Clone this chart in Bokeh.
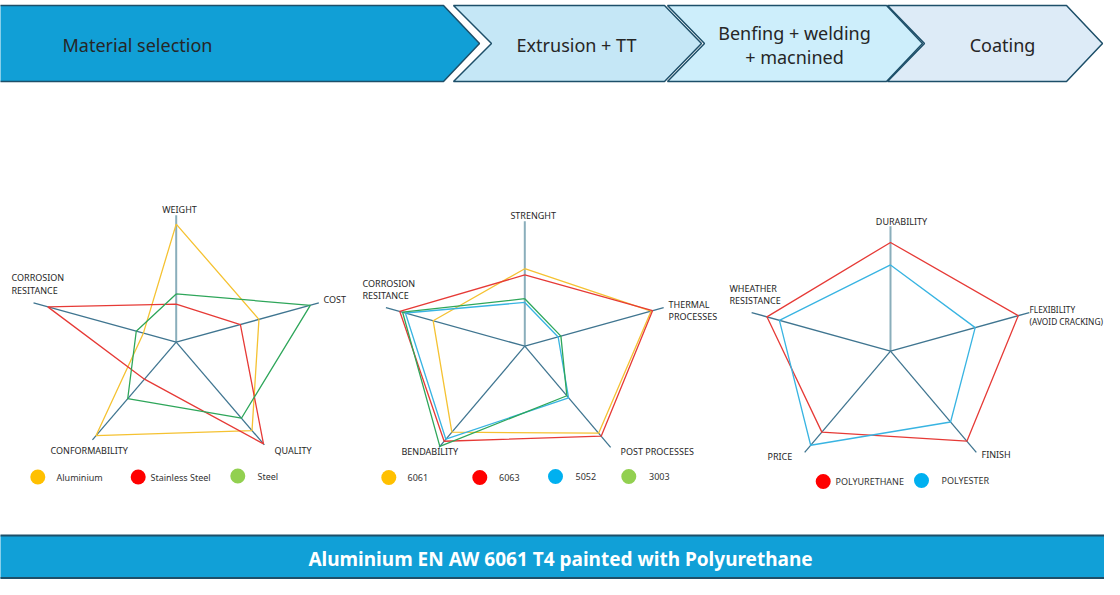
import numpy as np
from bokeh.plotting import figure
from bokeh.models import Range1d
from bokeh.core.properties import value
from bokeh.embed import file_html
from bokeh.resources import INLINE

# ---------------- data ----------------
steps = ["Material selection", "Extrusion + TT", "Benfing + welding\n+ macnined", "Coating"]
conclusion = "Aluminium EN AW 6061 T4 painted with Polyurethane"

# chart 1 : material selection (values 0..10, axis end = 10)
axes1 = ["WEIGHT", "COST", "QUALITY", "CONFORMABILITY", "CORROSION\nRESITANCE"]
series1 = ["Aluminium", "Stainless Steel", "Steel"]
aluminium = [9.3, 5.8, 8.6, 9.1, 2.3]
stainless = [3.0, 4.5, 9.9, 3.6, 9.0]
steel = [3.8, 9.4, 7.4, 5.5, 2.8]

# chart 2 : alloy selection
axes2 = ["STRENGHT", "THERMAL\nPROCESSES", "POST PROCESSES", "BENDABILITY", "CORROSION\nRESITANCE"]
series2 = ["6061", "6063", "5052", "3003"]
a6061 = [6.2, 9.1, 8.6, 8.5, 6.6]
a6063 = [5.7, 9.2, 8.9, 9.4, 9.0]
a5052 = [3.5, 2.4, 5.1, 9.2, 8.6]
a3003 = [3.8, 2.6, 4.9, 9.9, 8.8]

# chart 3 : coating selection
axes3 = ["DURABILITY", "FLEXIBILITY\n(AVOID CRACKING)", "FINISH", "PRICE", "WHEATHER\nRESISTANCE"]
series3 = ["POLYURETHANE", "POLYESTER"]
polyurethane = [8.7, 9.2, 8.9, 8.0, 8.9]
polyester = [6.9, 6.1, 7.0, 9.3, 8.0]

# ---------------- styling ----------------
FONT = "Noto Sans"
AX_DARK = "#3f7590"
AX_LIGHT = "#8aaebb"
BORDER = "#1d4f69"
C_YEL, C_RED, C_GRN, C_BLU = "#f5c232", "#e63a36", "#2ea65a", "#38b4e2"
L_YEL, L_RED, L_GRN, L_BLU = "#ffc000", "#ff0000", "#92d050", "#00b0f0"
ANGLES = np.radians([90, 18, -54, -126, 162])

p = figure(width=1104, height=579, output_backend="svg", toolbar_location=None,
           x_range=Range1d(0, 1104), y_range=Range1d(579, 0))
p.axis.visible = False
p.grid.visible = False
p.outline_line_color = None
p.min_border = 0
p.background_fill_color = "white"

def txt(x, y, s, size, color="#262626", align="left", style="normal", font=FONT):
    p.text(x=[x], y=[y], text=[s], text_font=value(font), text_font_size=f"{size}px",
           text_color=color, text_align=align, text_baseline="middle",
           text_font_style=style)

# ---------------- top chevrons ----------------
top, mid, bot = 5, 43, 81
chev = [
    ([-20, 443, 479, 443, -20], None, "#119fd6"),
    ([453, 664, 701, 664, 453], 491, "#c5e7f6"),
    ([667, 886, 922, 886, 667], 704, "#cdeefb"),
    ([887, 1066, 1102, 1066, 887], 924, "#ddebf7"),
]
for xs, notch, fill in chev:
    if notch is None:
        px = xs
        py = [top, top, mid, bot, bot]
    else:
        px = [xs[0], xs[1], xs[2], xs[3], xs[4], notch]
        py = [top, top, mid, bot, bot, mid]
    p.patch(px, py, fill_color=fill, line_color=BORDER, line_width=1.5)

txt(62, 44, steps[0], 18)
txt(576, 44, steps[1], 18, align="center")
l1, l2 = steps[2].split("\n")
txt(794, 32, l1, 18, align="center")
txt(794, 56, l2, 18, align="center")
txt(1002, 44, steps[3], 18, align="center")

# ---------------- radar helper ----------------
def radar(cx, cy, rx, ry, series, colors, axis_len=(1, 1, 1, 1, 1)):
    for i, a in enumerate(ANGLES):
        L = axis_len[i]
        col = AX_LIGHT if i == 0 else AX_DARK
        lw = 2.0 if i == 0 else 1.3
        p.line([cx, cx + L * rx * np.cos(a)], [cy, cy - L * ry * np.sin(a)],
               line_color=col, line_width=lw)
    for vals, col in zip(series, colors):
        r = np.array(vals + vals[:1]) / 10.0
        ang = np.concatenate([ANGLES, ANGLES[:1]])
        xs = cx + r * rx * np.cos(ang)
        ys = cy - r * ry * np.sin(ang)
        p.line(xs, ys, line_color=col, line_width=1.3)

def label(x, y, s, align="left", size=9):
    lines = s.split("\n")
    for k, ln in enumerate(lines):
        txt(x, y + k * 12.5, ln, size, align=align)

# chart 1
radar(175.7, 341.7, 150, 127, [aluminium, stainless, steel], [C_YEL, C_RED, C_GRN],
      axis_len=(1.0, 1.0, 1.0, 0.95, 1.0))
label(179, 209, axes1[0], "center")
label(323, 299, axes1[1])
label(274, 450, axes1[2])
label(50, 450, axes1[3])
label(11, 277, axes1[4])

# chart 2
radar(524.3, 345.7, 146, 125, [a6061, a6063, a5052, a3003], [C_YEL, C_RED, C_BLU, C_GRN])
label(532.7, 215, axes2[0], "center")
label(668, 303.5, axes2[1])
label(620, 451, axes2[2])
label(401, 451, axes2[3])
label(362, 282.5, axes2[4])

# chart 3
radar(890, 350.7, 146, 125, [polyurethane, polyester], [C_RED, C_BLU])
label(901, 221, axes3[0], "center")
label(1029, 308.5, axes3[1], size=8.3)
label(981, 453.5, axes3[2])
label(767, 456, axes3[3])
label(729, 287.5, axes3[4])

# ---------------- legends ----------------
def legend_item(x, y, name, color, tx):
    p.scatter([x], [y], size=15, marker="circle", fill_color=color, line_color=None)
    txt(tx, y, name, 9, color="#333333")

legend_item(37.3, 476.5, series1[0], L_YEL, 56)
legend_item(137.7, 476.5, series1[1], L_RED, 150)
legend_item(237.3, 475.5, series1[2], L_GRN, 257)

legend_item(388.3, 477, series2[0], L_YEL, 407)
legend_item(479.3, 477, series2[1], L_RED, 498.5)
legend_item(555, 476, series2[2], L_BLU, 575)
legend_item(628.3, 476, series2[3], L_GRN, 648.5)

legend_item(822.7, 481, series3[0], L_RED, 835)
legend_item(921, 480, series3[1], L_BLU, 941)

# ---------------- bottom banner ----------------
p.patch([-20, 1140, 1140, -20], [535, 535, 578, 578], fill_color="#11a0d7", line_color=None)
p.line([-20, 1140], [535, 535], line_color=BORDER, line_width=2)
p.line([-20, 1140], [577.5, 577.5], line_color=BORDER, line_width=2)
txt(560, 558, conclusion, 19, color="white", align="center", style="bold")

open("out.html", "w").write(file_html(p, INLINE))
